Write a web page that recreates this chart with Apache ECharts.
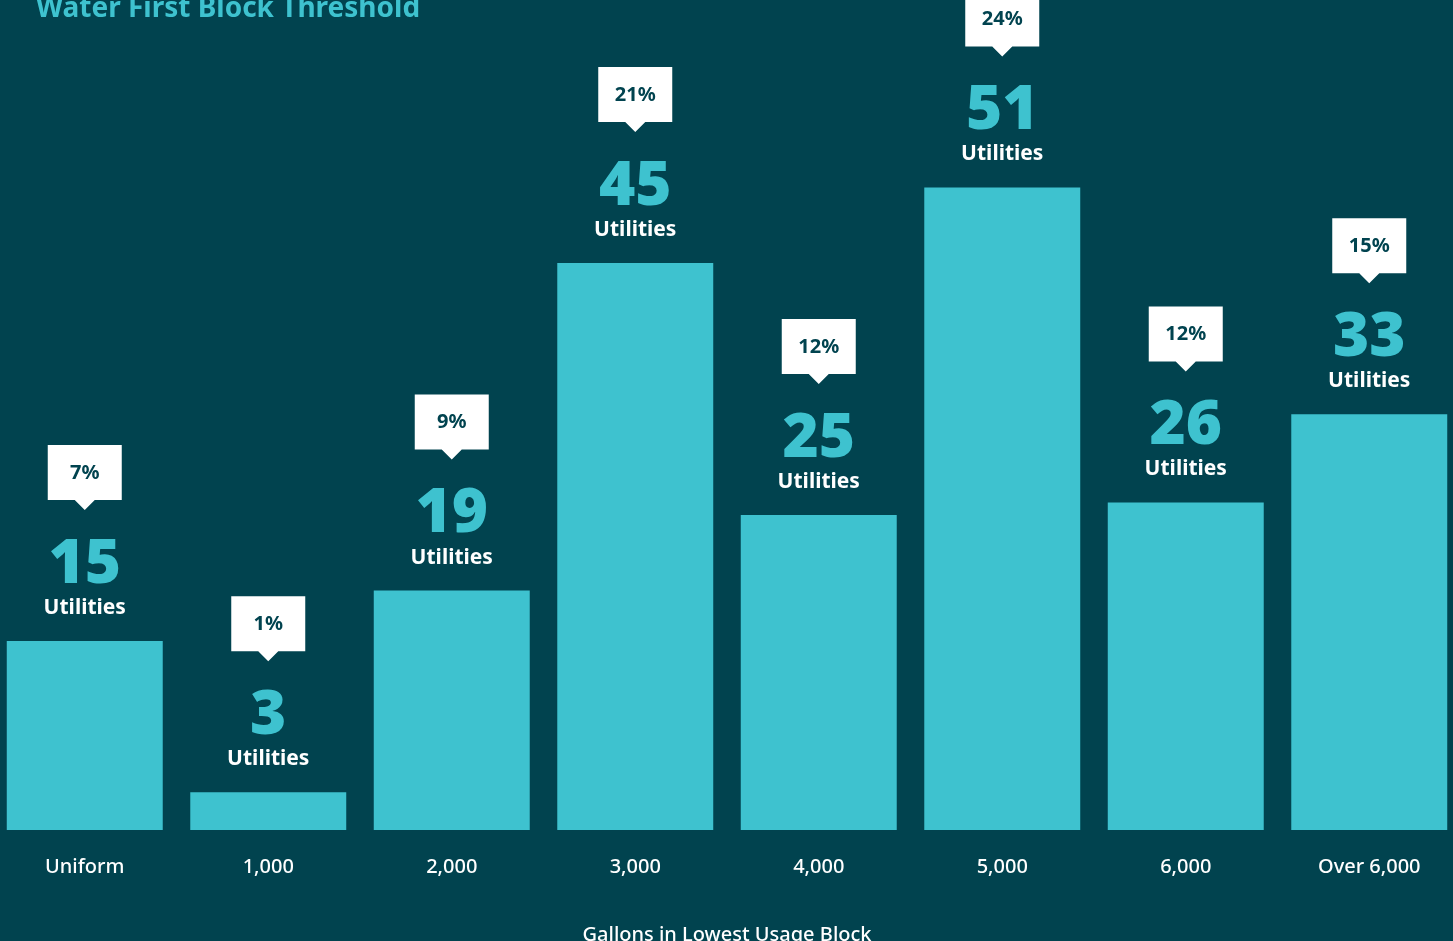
<!DOCTYPE html>
<html>
<head>
<meta charset="utf-8">
<script src="https://cdn.jsdelivr.net/npm/echarts@6/dist/echarts.min.js"></script>
<style>
html,body{margin:0;padding:0;background:#01434F;}
#chart{width:1453px;height:941px;}
</style>
</head>
<body>
<div id="chart"></div>
<script>
const categories = ['Uniform', '1,000', '2,000', '3,000', '4,000', '5,000', '6,000', 'Over 6,000'];
const utilities = [15, 3, 19, 45, 25, 51, 26, 33];
const percents = ['7%', '1%', '9%', '21%', '12%', '24%', '12%', '15%'];

const BG = '#01434F';
const BAR = '#3EC2CF';
const FONT = '"Noto Sans", "Open Sans", sans-serif';

const chart = echarts.init(document.getElementById('chart'));

function renderItem(params, api) {
  const idx = api.value(0);
  const val = api.value(1);
  const top = api.coord([idx, val]);
  const base = api.coord([idx, 0]);
  const band = api.size([1, 0])[0];
  const w = band * 0.85;
  const cx = top[0];
  const ty = top[1];
  const children = [
    {
      type: 'rect',
      shape: { x: cx - w / 2, y: ty, width: w, height: base[1] - ty },
      style: { fill: BAR }
    },
    {
      type: 'text',
      style: {
        text: 'Utilities', x: cx, y: ty - 33, align: 'center', verticalAlign: 'middle',
        fill: '#ffffff', font: 'bold 21px ' + FONT
      }
    },
    {
      type: 'text',
      style: {
        text: String(val), x: cx, y: ty - 76, align: 'center', verticalAlign: 'middle',
        fill: BAR, font: '900 62px ' + FONT
      }
    },
    {
      type: 'polygon',
      shape: {
        points: [
          [cx - 37, ty - 196], [cx + 37, ty - 196], [cx + 37, ty - 141],
          [cx + 10, ty - 141], [cx, ty - 131], [cx - 10, ty - 141], [cx - 37, ty - 141]
        ]
      },
      style: { fill: '#ffffff' }
    },
    {
      type: 'text',
      style: {
        text: percents[idx], x: cx, y: ty - 168, align: 'center', verticalAlign: 'middle',
        fill: BG, font: 'bold 20px ' + FONT
      }
    }
  ];
  return { type: 'group', children: children };
}

chart.setOption({
  backgroundColor: BG,
  animation: false,
  title: {
    text: 'Water First Block Threshold',
    left: 31, top: -10,
    textStyle: { color: BAR, fontSize: 28, fontWeight: 'bold', fontFamily: FONT }
  },
  grid: { left: -7, right: -8, top: 74, bottom: 111, containLabel: false, outerBoundsMode: 'none' },
  xAxis: {
    type: 'category',
    data: categories,
    name: 'Gallons in Lowest Usage Block',
    nameLocation: 'middle',
    nameGap: 95,
    nameTextStyle: { color: '#ffffff', fontSize: 20, fontWeight: 500, fontFamily: FONT },
    axisLine: { show: false },
    axisTick: { show: false },
    axisLabel: { color: '#ffffff', fontSize: 20, fontWeight: 500, fontFamily: FONT, margin: 27 }
  },
  yAxis: {
    type: 'value', min: 0, max: 60, show: false,
    splitLine: { show: false }
  },
  series: [{
    type: 'custom',
    renderItem: renderItem,
    clip: false,
    data: utilities.map((v, i) => [i, v])
  }]
});
</script>
</body>
</html>
